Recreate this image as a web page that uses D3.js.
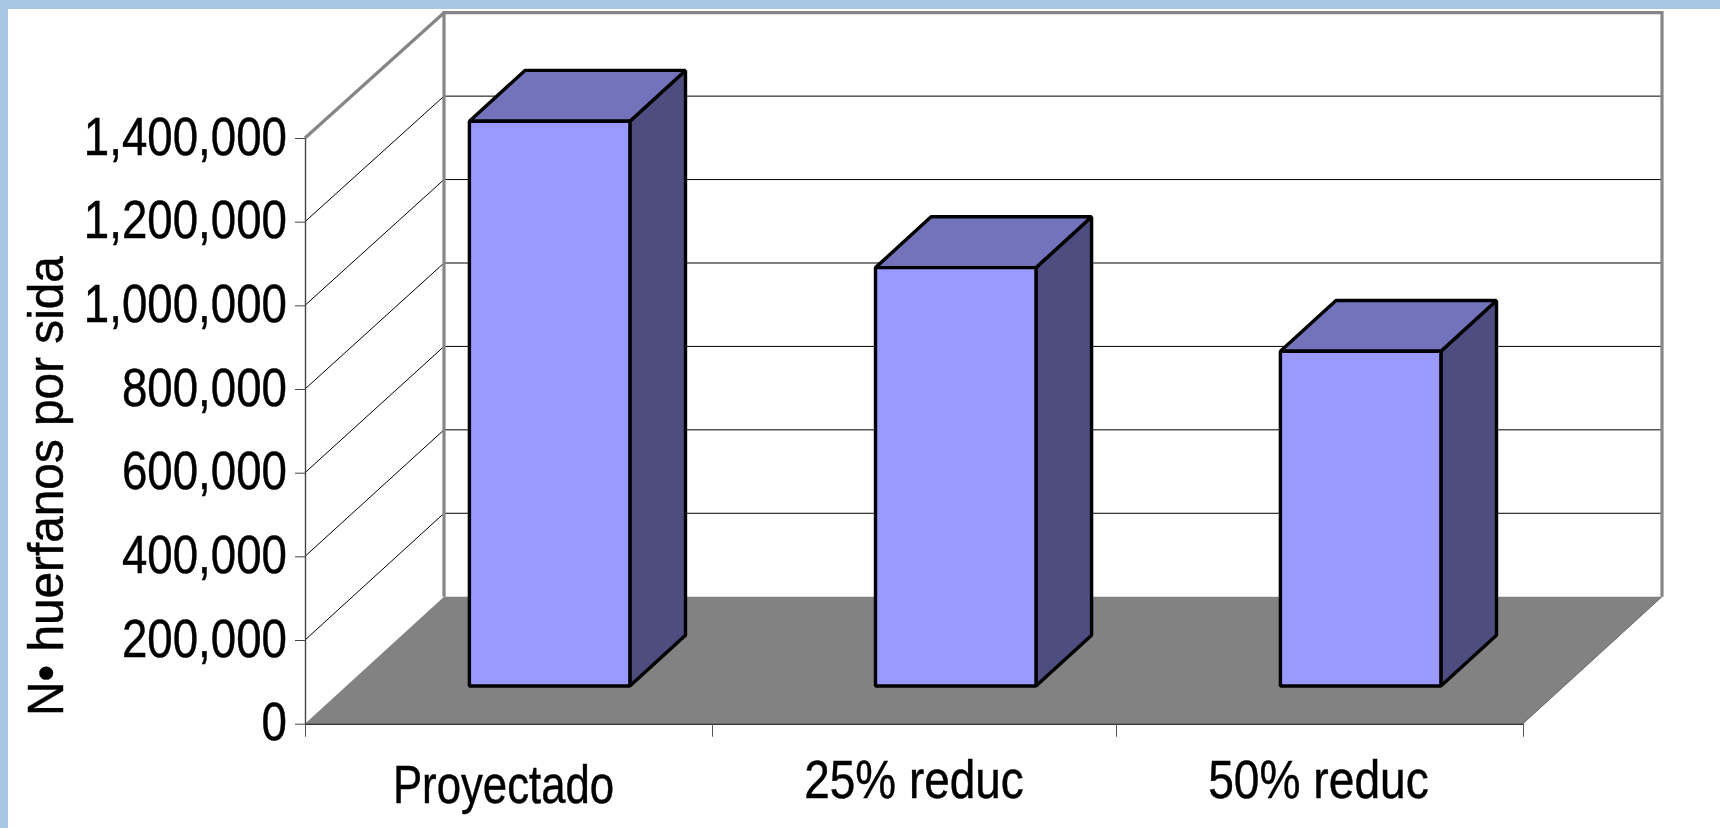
<!DOCTYPE html>
<html>
<head>
<meta charset="utf-8">
<script src="https://cdn.jsdelivr.net/npm/d3@7"></script>
<style>
  html, body { margin: 0; padding: 0; background: #fff; overflow: hidden; }
  text { font-family: "Liberation Sans", Arial, sans-serif; fill: #000; stroke: #000; stroke-width: 0.45px; }
</style>
</head>
<body>
<svg id="chart" width="1720" height="828"></svg>
<script>
const categories = ["Proyectado", "25% reduc", "50% reduc"];
const orphans = [1350000, 1000000, 800000];
const yTicks = [0, 200000, 400000, 600000, 800000, 1000000, 1200000, 1400000];
const yTitle = "N\u2022 huerfanos por sida";

const colors = {
  band: "#a6c6e3",
  wall: "#868686",
  floor: "#828282",
  front: "#9999ff",
  top: "#7373bb",
  side: "#4d4d7f",
};

const svg = d3.select("#chart");

// front plane and back wall of the box
const y = d3.scaleLinear().domain([0, 1400000]).range([723.7, 138]);
const yBack = d3.scaleLinear().domain([0, 1400000]).range([596.7, 12.7]);
const edge = d3.scaleLinear().domain([0, 1, 2, 3]).range([305, 712, 1116, 1523]);

// oblique depth, 0 is the front plane and 1 the back wall
const depthX = d3.scaleLinear().domain([0, 1]).range([0, 139]);
const depthY = d3.scaleLinear().domain([0, 1]).range([0, -127]);
const barDepth = [0.297, 0.697];
const barInset = 0.3025, barWidth = 160.5;

const pt = (px, py, z) => [px + depthX(z), py + depthY(z)];
const poly = pts => "M" + pts.map(p => p.join(",")).join("L") + "Z";

// slide background edges
svg.append("rect").attr("width", 1720).attr("height", 9).attr("fill", colors.band);
svg.append("rect").attr("width", 8).attr("height", 828).attr("fill", colors.band);

const xL = edge(0), xR = edge(3);
const xLB = xL + depthX(1), xRB = xR + depthX(1);
const y0 = y(0), yMax = y(1400000);

// floor
svg.append("path")
  .attr("d", poly([[xL, y0], [xR, y0], [xRB, yBack(0)], [xLB, yBack(0)]]))
  .attr("fill", colors.floor);

// gridlines on the side and back walls
const grid = svg.append("g");
grid.selectAll(".side-grid")
  .data(yTicks.slice(1, -1))
  .enter().append("line")
  .attr("x1", xL).attr("y1", d => y(d))
  .attr("x2", xLB).attr("y2", d => yBack(d))
  .attr("stroke", "#000").attr("stroke-width", 1);
grid.selectAll(".back-grid")
  .data(yTicks.slice(1, -1))
  .enter().append("line")
  .attr("x1", xLB).attr("y1", d => yBack(d))
  .attr("x2", xRB).attr("y2", d => yBack(d))
  .attr("stroke", "#000").attr("stroke-width", 1);

// back wall outline
svg.append("path")
  .attr("d", "M" + [[xLB, yBack(0)], [xLB, yBack(1400000)], [xRB, yBack(1400000)], [xRB, yBack(0)]].map(p => p.join(",")).join("L"))
  .attr("fill", "none").attr("stroke", colors.wall).attr("stroke-width", 3.2);
svg.append("line")
  .attr("x1", xL).attr("y1", yMax)
  .attr("x2", xLB).attr("y2", yBack(1400000))
  .attr("stroke", colors.wall).attr("stroke-width", 3.2);

// floor right edge
svg.append("line")
  .attr("x1", xR).attr("y1", y0)
  .attr("x2", xRB).attr("y2", yBack(0))
  .attr("stroke", "#555").attr("stroke-width", 0.8);

// bars
const bars = svg.selectAll(".bar")
  .data(categories.map((c, i) => ({
    v: orphans[i],
    l: edge(i) + (edge(i + 1) - edge(i)) * barInset,
  })))
  .enter().append("g").attr("class", "bar")
  .attr("stroke", "#000").attr("stroke-width", 3.4).attr("stroke-linejoin", "bevel");

const [z0, z1] = barDepth;
bars.append("path").attr("fill", colors.side).attr("d", d => {
  const r = d.l + barWidth;
  return poly([pt(r, y(d.v), z0), pt(r, y(d.v), z1), pt(r, y0, z1), pt(r, y0, z0)]);
});
bars.append("path").attr("fill", colors.top).attr("d", d => {
  const r = d.l + barWidth;
  return poly([pt(d.l, y(d.v), z0), pt(d.l, y(d.v), z1), pt(r, y(d.v), z1), pt(r, y(d.v), z0)]);
});
bars.append("path").attr("fill", colors.front).attr("d", d => {
  const r = d.l + barWidth;
  return poly([pt(d.l, y(d.v), z0), pt(r, y(d.v), z0), pt(r, y0, z0), pt(d.l, y0, z0)]);
});

// y axis
const yScaleX = 0.846;
const yAxis = svg.append("g")
  .attr("transform", "translate(" + xL + ",0)")
  .call(d3.axisLeft(y).tickValues(yTicks).tickFormat(d3.format(",")).tickSize(10).tickSizeOuter(0));
yAxis.select(".domain").attr("stroke", "#444").attr("stroke-width", 1.4);
yAxis.selectAll(".tick line").attr("stroke", "#444").attr("stroke-width", 1);
yAxis.selectAll(".tick text")
  .attr("x", -18 / yScaleX)
  .attr("dy", "0.3em")
  .attr("transform", "scale(" + yScaleX + ",1)")
  .style("font-size", "54px");

// x axis, ticks sit on the category boundaries
const xAxis = svg.append("g")
  .attr("transform", "translate(0," + y0 + ")")
  .call(d3.axisBottom(edge).tickValues([0, 1, 2, 3]).tickFormat("").tickSize(13).tickSizeOuter(0));
xAxis.select(".domain").attr("stroke", "#333").attr("stroke-width", 1.4);
xAxis.selectAll(".tick line").attr("stroke", "#555").attr("stroke-width", 1);

// category labels
const labelScale = [0.81, 0.85, 0.855];
const labelShift = [-5, 0, -1];
svg.selectAll(".cat")
  .data(categories)
  .enter().append("text")
  .attr("class", "cat")
  .attr("text-anchor", "middle")
  .attr("transform", (d, i) => {
    const cx = (edge(i) + edge(i + 1)) / 2 + labelShift[i];
    // the first label was nudged by hand in the original
    return "translate(" + cx + "," + (i === 0 ? 803 : 798) + ") scale(" + labelScale[i] + ",1)";
  })
  .style("font-size", "54px")
  .text(d => d);

// y axis title
svg.append("text")
  .attr("transform", "translate(63,716) rotate(-90) scale(0.955,1)")
  .style("font-size", "50px")
  .text(yTitle);
</script>
</body>
</html>
